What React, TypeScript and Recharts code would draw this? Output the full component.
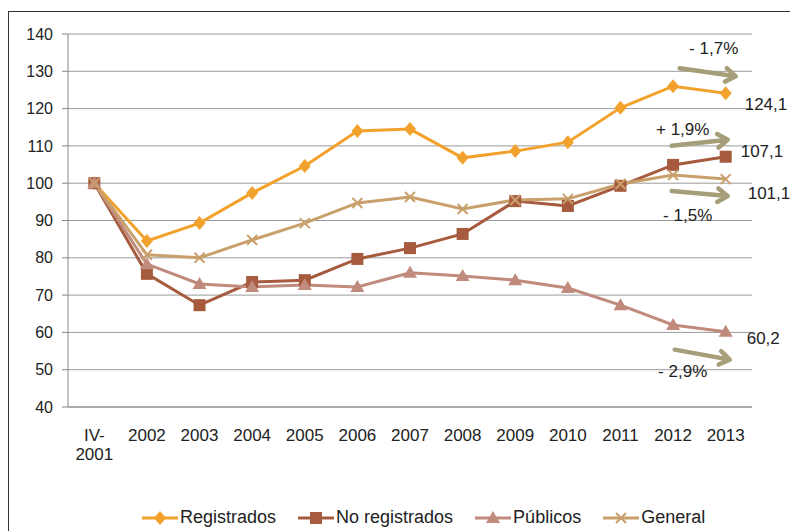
import React from 'react';
import { LineChart, Line, XAxis, YAxis, CartesianGrid, ReferenceDot } from 'recharts';

const years = ['IV-2001', '2002', '2003', '2004', '2005', '2006', '2007', '2008', '2009', '2010', '2011', '2012', '2013'];
const registrados = [100, 84.5, 89.3, 97.4, 104.6, 114.0, 114.5, 106.8, 108.6, 111.0, 120.2, 126.0, 124.1];
const noRegistrados = [100, 75.7, 67.3, 73.5, 74.0, 79.7, 82.6, 86.4, 95.2, 93.9, 99.3, 104.9, 107.1];
const publicos = [100, 78.3, 73.0, 72.2, 72.7, 72.2, 76.0, 75.1, 74.0, 71.9, 67.3, 62.0, 60.2];
const general = [100, 80.8, 80.0, 84.8, 89.3, 94.7, 96.3, 93.1, 95.5, 95.8, 99.8, 102.2, 101.1];
const yTicks = [40, 50, 60, 70, 80, 90, 100, 110, 120, 130, 140];
const edgeTicks = [0, 1, 2, 3, 4, 5, 6, 7, 8, 9, 10, 11, 12, 13];

const data = years.map((year, i) => ({
  year,
  registrados: registrados[i],
  noRegistrados: noRegistrados[i],
  publicos: publicos[i],
  general: general[i],
}));

const C_REG = '#f2a22c';
const C_NOREG = '#a65a3e';
const C_PUB = '#c08a7c';
const C_GEN = '#c9a06c';
const C_ARROW = '#a69e78';
const FONT = '"Liberation Sans", Arial, sans-serif';

const Diamond = ({ cx, cy, fill }: any) => (
  <path d={`M${cx} ${cy - 7}L${cx + 6} ${cy}L${cx} ${cy + 7}L${cx - 6} ${cy}Z`} fill={fill} />
);
const Square = ({ cx, cy, fill }: any) => <rect x={cx - 6} y={cy - 6} width={12} height={12} fill={fill} />;
const Triangle = ({ cx, cy, fill }: any) => (
  <path d={`M${cx} ${cy - 7}L${cx + 7} ${cy + 5}L${cx - 7} ${cy + 5}Z`} fill={fill} />
);
const Cross = ({ cx, cy, stroke }: any) => (
  <path d={`M${cx - 5} ${cy - 5}L${cx + 5} ${cy + 5}M${cx + 5} ${cy - 5}L${cx - 5} ${cy + 5}`} stroke={stroke} strokeWidth={2} />
);

const XTick = ({ x, y, payload }: any) => {
  const v: string = payload.value;
  const lines = v.includes('-') ? [v.slice(0, v.indexOf('-') + 1), v.slice(v.indexOf('-') + 1)] : [v];
  return (
    <text x={x} y={y + 26} textAnchor="middle" fill="#222" fontSize={17} fontFamily={FONT}>
      {lines.map((l, i) => (
        <tspan key={i} x={x} dy={i === 0 ? 0 : 19}>{l}</tspan>
      ))}
    </text>
  );
};

// annotation drawn around the last point of a series
const Note = (value: string, pct: string, o: { vx: number; vy: number; px: number; py: number; ax1: number; ay1: number; ax2: number; ay2: number }) =>
  (props: any) => {
    const vb = props.viewBox || {};
    const cx = vb.x + (vb.width || 0) / 2;
    const cy = vb.y + (vb.height || 0) / 2;
    const x1 = cx + o.ax1, y1 = cy + o.ay1, x2 = cx + o.ax2, y2 = cy + o.ay2;
    const ang = Math.atan2(y2 - y1, x2 - x1);
    const h = 12;
    const hx1 = x2 - h * Math.cos(ang - 0.6), hy1 = y2 - h * Math.sin(ang - 0.6);
    const hx2 = x2 - h * Math.cos(ang + 0.6), hy2 = y2 - h * Math.sin(ang + 0.6);
    return (
      <g fontFamily={FONT} fontSize={17} fill="#222">
        <path d={`M${x1} ${y1}L${x2} ${y2}M${hx1} ${hy1}L${x2} ${y2}L${hx2} ${hy2}`} stroke={C_ARROW} strokeWidth={4.5} fill="none" strokeLinecap="round" strokeLinejoin="round" />
        <text x={cx + o.vx} y={cy + o.vy} dominantBaseline="central">{value}</text>
        <text x={cx + o.px} y={cy + o.py} textAnchor="middle" dominantBaseline="central">{pct}</text>
      </g>
    );
  };

const legendItems = [
  { name: 'Registrados', color: C_REG, shape: 'diamond' },
  { name: 'No registrados', color: C_NOREG, shape: 'square' },
  { name: 'Públicos', color: C_PUB, shape: 'triangle' },
  { name: 'General', color: C_GEN, shape: 'cross' },
];

const LegendIcon = ({ color, shape }: { color: string; shape: string }) => (
  <svg width={36} height={16} style={{ display: 'block' }}>
    <line x1={0} y1={8} x2={36} y2={8} stroke={color} strokeWidth={3} />
    {shape === 'diamond' && <Diamond cx={18} cy={8} fill={color} />}
    {shape === 'square' && <Square cx={18} cy={8} fill={color} />}
    {shape === 'triangle' && <Triangle cx={18} cy={8} fill={color} />}
    {shape === 'cross' && <Cross cx={18} cy={8} stroke={color} />}
  </svg>
);

export default function App() {
  const last = years[years.length - 1];
  return (
    <div style={{ marginTop: 3, width: 790, height: 520, borderLeft: '1px solid #333', borderTop: '1px solid #333', position: 'relative', fontFamily: FONT }}>
      <LineChart width={789} height={480} data={data} margin={{ top: 22, right: 46, left: 0, bottom: 0 }} style={{ overflow: 'visible' }}>
        <CartesianGrid vertical={false} stroke="#9a9a9a" />
        <XAxis xAxisId="edges" type="number" domain={[0, 13]} ticks={edgeTicks} tick={false} axisLine={false} tickLine={{ stroke: '#888' }} tickSize={6} height={0} allowDataOverflow />
        <XAxis dataKey="year" scale="band" tick={<XTick />} tickLine={false} axisLine={{ stroke: '#888' }} height={85} interval={0} />
        <YAxis domain={[40, 140]} ticks={yTicks} width={59} tickSize={6} tickMargin={9} axisLine={{ stroke: '#888' }} tickLine={{ stroke: '#888' }} tick={{ fill: '#222', fontSize: 16, fontFamily: FONT }} interval={0} />
        <Line dataKey="registrados" stroke={C_REG} strokeWidth={3} isAnimationActive={false} dot={(p: any) => <Diamond key={p.index} cx={p.cx} cy={p.cy} fill={C_REG} />} />
        <Line dataKey="noRegistrados" stroke={C_NOREG} strokeWidth={3} isAnimationActive={false} dot={(p: any) => <Square key={p.index} cx={p.cx} cy={p.cy} fill={C_NOREG} />} />
        <Line dataKey="publicos" stroke={C_PUB} strokeWidth={3} isAnimationActive={false} dot={(p: any) => <Triangle key={p.index} cx={p.cx} cy={p.cy} fill={C_PUB} />} />
        <Line dataKey="general" stroke={C_GEN} strokeWidth={3} isAnimationActive={false} dot={(p: any) => <Cross key={p.index} cx={p.cx} cy={p.cy} stroke={C_GEN} />} />
        <ReferenceDot x={last} y={registrados[12]} r={0} label={Note('124,1', '- 1,7%', { vx: 19, vy: 11, px: -12, py: -45, ax1: -46, ay1: -25, ax2: 10, ay2: -17 })} />
        <ReferenceDot x={last} y={noRegistrados[12]} r={0} label={Note('107,1', '+ 1,9%', { vx: 15, vy: -5, px: -43, py: -27, ax1: -54, ay1: -11, ax2: 2, ay2: -17 })} />
        <ReferenceDot x={last} y={general[12]} r={0} label={Note('101,1', '- 1,5%', { vx: 22, vy: 14, px: -38, py: 36, ax1: -54, ay1: 12, ax2: 2, ay2: 17 })} />
        <ReferenceDot x={last} y={publicos[12]} r={0} label={Note('60,2', '- 2,9%', { vx: 21, vy: 7, px: -43, py: 40, ax1: -51, ay1: 18, ax2: 4, ay2: 28 })} />
      </LineChart>
      <div style={{ position: 'absolute', left: 133, top: 495, display: 'flex', alignItems: 'center', fontSize: 18, color: '#222' }}>
        {legendItems.map((it) => (
          <div key={it.name} style={{ display: 'flex', alignItems: 'center', marginRight: 22 }}>
            <LegendIcon color={it.color} shape={it.shape} />
            <span style={{ marginLeft: 2 }}>{it.name}</span>
          </div>
        ))}
      </div>
    </div>
  );
}
